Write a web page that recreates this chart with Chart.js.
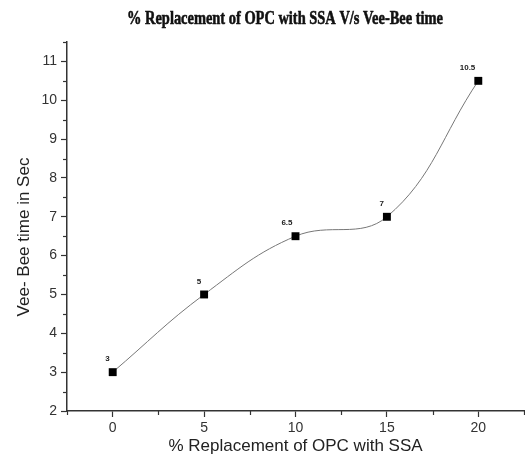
<!DOCTYPE html>
<html>
<head>
<meta charset="utf-8">
<script src="https://cdn.jsdelivr.net/npm/chart.js@4/dist/chart.umd.min.js"></script>
<style>
html,body{margin:0;padding:0;background:#fff;}
#wrap{width:525px;height:467px;position:relative;}
</style>
</head>
<body>
<div id="wrap"><canvas id="c" width="525" height="467"></canvas></div>
<script>
const replacement = [0, 5, 10, 15, 20];
const veeBee = [3, 5, 6.5, 7, 10.5];
const pointLabels = ['3', '5', '6.5', '7', '10.5'];
const xTicks = [0, 5, 10, 15, 20];
const yTicks = [2, 3, 4, 5, 6, 7, 8, 9, 10, 11];
const xMinor = [-2.5, 2.5, 7.5, 12.5, 17.5, 22.5];
const yMinor = [2.5, 3.5, 4.5, 5.5, 6.5, 7.5, 8.5, 9.5, 10.5, 11.5];
const chartTitle = '% Replacement of OPC with SSA V/s Vee-Bee time';
const xTitle = '% Replacement of OPC with SSA';
const yTitle = 'Vee- Bee time in Sec';

const extras = {
  id: 'extras',
  afterDraw(chart) {
    const ctx = chart.ctx;
    const xs = chart.scales.x, ys = chart.scales.y;
    const area = chart.chartArea;
    ctx.save();
    // minor ticks
    ctx.strokeStyle = '#333';
    ctx.lineWidth = 1.2;
    xMinor.forEach(v => {
      const px = Math.round(xs.getPixelForValue(v)) + 0.5;
      ctx.beginPath(); ctx.moveTo(px, area.bottom); ctx.lineTo(px, area.bottom + 4); ctx.stroke();
    });
    yMinor.forEach(v => {
      const py = Math.round(ys.getPixelForValue(v)) + 0.5;
      ctx.beginPath(); ctx.moveTo(area.left, py); ctx.lineTo(area.left - 4, py); ctx.stroke();
    });
    // point labels
    const meta = chart.getDatasetMeta(0);
    ctx.fillStyle = '#222';
    ctx.font = 'bold 8px "Liberation Sans", Arial, sans-serif';
    ctx.textAlign = 'right';
    ctx.textBaseline = 'middle';
    meta.data.forEach((pt, i) => {
      ctx.fillText(pointLabels[i], pt.x - 3, pt.y - 13);
    });
    // chart title (condensed serif)
    ctx.font = 'bold 19px "Liberation Serif", "Times New Roman", serif';
    const w = ctx.measureText(chartTitle).width;
    const sx = 316 / w;
    ctx.translate(285, 19);
    ctx.scale(sx, 1);
    ctx.fillStyle = '#111';
    ctx.strokeStyle = '#111';
    ctx.lineWidth = 0.6;
    ctx.textAlign = 'center';
    ctx.textBaseline = 'middle';
    ctx.fillText(chartTitle, 0, 0);
    ctx.strokeText(chartTitle, 0, 0);
    ctx.restore();
    // y title
    ctx.save();
    ctx.translate(24, 237);
    ctx.rotate(-Math.PI / 2);
    ctx.font = '17px "Liberation Sans", Arial, sans-serif';
    ctx.fillStyle = '#222';
    ctx.textAlign = 'center';
    ctx.textBaseline = 'middle';
    ctx.fillText(yTitle, 0, 0);
    ctx.restore();
  }
};

new Chart(document.getElementById('c'), {
  type: 'line',
  data: {
    datasets: [{
      data: replacement.map((x, i) => ({ x: x, y: veeBee[i] })),
      borderColor: '#777',
      borderWidth: 1,
      tension: 0.4,
      pointStyle: 'rect',
      pointRadius: 5.6,
      pointBackgroundColor: '#000',
      pointBorderColor: '#000',
      pointBorderWidth: 0,
      fill: false
    }]
  },
  options: {
    responsive: false,
    animation: false,
    events: [],
    layout: { autoPadding: false, padding: { top: 42, right: 1, left: 0, bottom: 0 } },
    plugins: { legend: { display: false }, title: { display: false }, tooltip: { enabled: false } },
    scales: {
      x: {
        type: 'linear',
        min: -2.5, max: 22.5,
        afterBuildTicks: s => { s.ticks = xTicks.map(v => ({ value: v })); },
        afterFit: s => { s.height = 56; s.paddingLeft = 0; s.paddingRight = 0; },
        grid: { drawOnChartArea: false, drawTicks: true, tickLength: 6, color: '#333', tickWidth: 1.2 },
        border: { display: true, color: '#333', width: 1.5 },
        ticks: { color: '#333', padding: 3, font: { family: '"Liberation Sans", Arial, sans-serif', size: 14 } },
        title: { display: true, text: xTitle, color: '#222', padding: { top: 0, bottom: 10 },
                 font: { family: '"Liberation Sans", Arial, sans-serif', size: 17 } }
      },
      y: {
        type: 'linear',
        min: 2, max: 11.5,
        afterBuildTicks: s => { s.ticks = yTicks.map(v => ({ value: v })); },
        afterFit: s => { s.width = 67; s.paddingTop = 0; s.paddingBottom = 0; },
        grid: { drawOnChartArea: false, drawTicks: true, tickLength: 6, color: '#333', tickWidth: 1.2 },
        border: { display: true, color: '#333', width: 1.5 },
        ticks: { color: '#333', padding: 4, font: { family: '"Liberation Sans", Arial, sans-serif', size: 14 } }
      }
    }
  },
  plugins: [extras]
});
</script>
</body>
</html>
